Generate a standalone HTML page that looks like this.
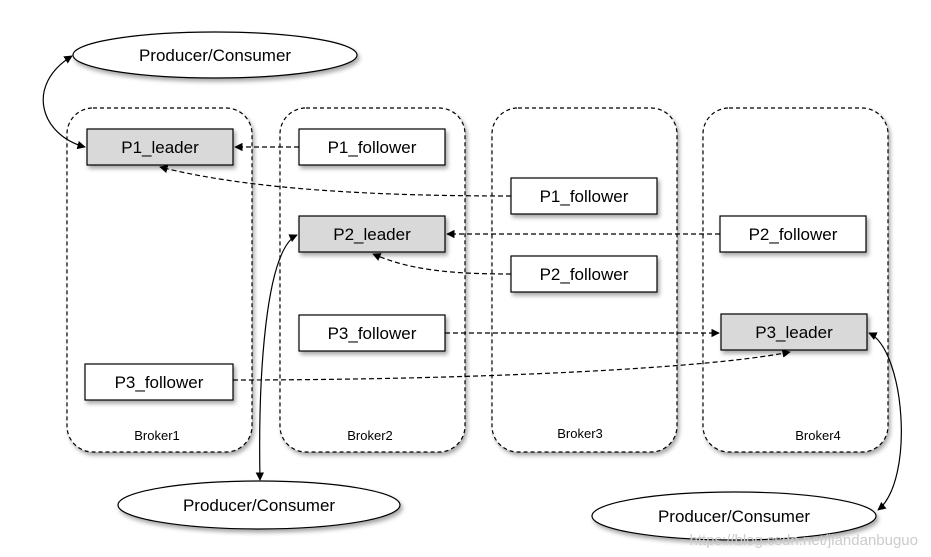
<!DOCTYPE html>
<html><head><meta charset="utf-8"><style>body{margin:0;background:#fff}svg{display:block}</style></head>
<body>
<svg width="931" height="557" viewBox="0 0 931 557" xmlns="http://www.w3.org/2000/svg" font-family="Liberation Sans, sans-serif">
<defs>
<marker id="a" viewBox="0 0 10 10" refX="9" refY="5" markerWidth="7" markerHeight="7" orient="auto-start-reverse"><path d="M0,0L10,5L0,10z" fill="#000"/></marker>
<filter id="s" x="-10%" y="-10%" width="130%" height="140%"><feDropShadow dx="2" dy="3" stdDeviation="2" flood-opacity="0.35"/></filter>
</defs>
<g fill="#fff" stroke="#000" stroke-width="1.2" stroke-dasharray="4,3" filter="url(#s)">
<rect x="67" y="108" width="185" height="344" rx="26"/>
<rect x="280" y="108" width="185" height="344" rx="26"/>
<rect x="492" y="108" width="185" height="344" rx="26"/>
<rect x="703" y="108" width="185" height="344" rx="26"/>
</g>
<g font-size="13" text-anchor="middle" fill="#000">
<text x="157" y="440">Broker1</text><text x="370" y="440">Broker2</text><text x="580" y="438">Broker3</text><text x="818" y="440">Broker4</text>
</g>
<g stroke="#000" stroke-width="1.2" filter="url(#s)">
<ellipse cx="215" cy="55" rx="142" ry="23" fill="#fff"/>
<ellipse cx="259" cy="505" rx="141" ry="24" fill="#fff"/>
<ellipse cx="734" cy="516" rx="142" ry="24" fill="#fff"/>
<rect x="87" y="129" width="146" height="36" fill="#d9d9d9"/>
<rect x="299" y="129" width="146" height="36" fill="#fff"/>
<rect x="511" y="178" width="146" height="36" fill="#fff"/>
<rect x="299" y="216" width="146" height="36" fill="#d9d9d9"/>
<rect x="720" y="216" width="146" height="36" fill="#fff"/>
<rect x="511" y="256" width="146" height="36" fill="#fff"/>
<rect x="299" y="315" width="146" height="36" fill="#fff"/>
<rect x="721" y="314" width="146" height="36" fill="#d9d9d9"/>
<rect x="85" y="364" width="148" height="36" fill="#fff"/>
</g>
<g font-size="17" text-anchor="middle" fill="#000">
<text x="215" y="61">Producer/Consumer</text>
<text x="259" y="511">Producer/Consumer</text>
<text x="734" y="522">Producer/Consumer</text>
<text x="160" y="153">P1_leader</text>
<text x="372" y="153">P1_follower</text>
<text x="584" y="202">P1_follower</text>
<text x="372" y="240">P2_leader</text>
<text x="793" y="240">P2_follower</text>
<text x="584" y="280">P2_follower</text>
<text x="372" y="339">P3_follower</text>
<text x="794" y="338">P3_leader</text>
<text x="159" y="388">P3_follower</text>
</g>
<g fill="none" stroke="#000" stroke-width="1.2">
<g stroke-dasharray="5,3">
<path d="M299,147 L235,147" marker-end="url(#a)"/>
<path d="M511,196 C380,196 250,190 160,167" marker-end="url(#a)"/>
<path d="M720,234 L447,234" marker-end="url(#a)"/>
<path d="M511,274 C450,274 410,270 373,254" marker-end="url(#a)"/>
<path d="M445,333 L719,333" marker-end="url(#a)"/>
<path d="M233,380 C450,380 700,370 790,352" marker-end="url(#a)"/>
</g>
<path d="M72,56 C25,85 40,135 85,147" marker-start="url(#a)" marker-end="url(#a)"/>
<path d="M297,235 C265,250 258,380 260,480" marker-start="url(#a)" marker-end="url(#a)"/>
<path d="M869,333 C905,350 915,480 878,510" marker-start="url(#a)" marker-end="url(#a)"/>
</g>
<text x="918" y="545" font-size="15" fill="#ccc" text-anchor="end">https://blog.csdn.net/jiandanbuguo</text>
</svg>
</body></html>
